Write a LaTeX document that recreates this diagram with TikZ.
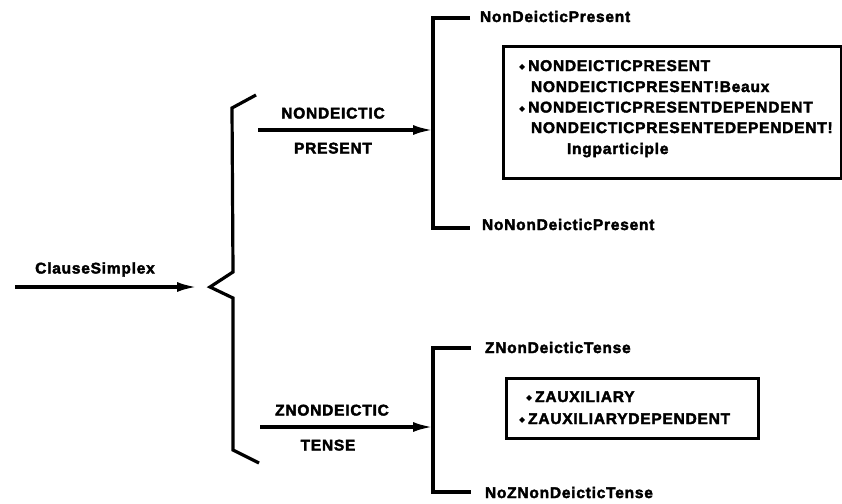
\documentclass[tikz,border=0pt]{standalone}
\usepackage{fontspec}
\setmainfont[LetterSpace=5,BoldFeatures={FakeBold=2.5}]{Liberation Sans}
\newfontfamily\symfont{DejaVu Sans}
\newcommand{\bul}{\raisebox{1.5pt}{\symfont\fontsize{8}{8}\selectfont ◆}\hspace{3pt}}
\usetikzlibrary{arrows.meta}

\begin{document}
\begin{tikzpicture}[x=1pt,y=-1pt,every text node part/.style={align=left}]
		\tikzstyle{lbl}=[font=\bfseries\fontsize{15.5}{19}\selectfont,
                  inner sep=0pt, outer sep=0pt]
		\tikzstyle{wire}=[line width=3.2pt]
		\tikzstyle{arr}=[wire,-{Latex[length=20pt,width=10pt]}]
		\tikzstyle{vbox}=[rectangle,draw,line width=3pt,
                  inner sep=0pt, anchor=north west]

        \useasboundingbox (0,0) rectangle (842,503);

        % input and big brace
        \node[lbl,anchor=base] (CS) at (95,273.5) {ClauseSimplex};
        \coordinate (CSin) at (15,287);
        \coordinate (CSout) at (197,287);
        \coordinate (tip) at (210,287);
        \coordinate (braceTop) at (256,95);
        \coordinate (braceBot) at (259,463);

     	\foreach \name/\x/\y/\txt in {NDa/333/118.5/NONDEICTIC, NDb/333/153.5/PRESENT,
                                      ZNDa/332/415.5/ZNONDEICTIC, ZNDb/328/450.5/TENSE}
       		\node[lbl,anchor=base] (\name) at (\x,\y) {\txt};

     	\foreach \name/\x/\y/\txt in {NDP/480/22/NonDeicticPresent,
                                      NoNDP/482/230/NoNonDeicticPresent,
                                      ZNDT/485/353/ZNonDeicticTense,
                                      NoZNDT/485/498/NoZNonDeicticTense}
       		\node[lbl,anchor=base west] (\name) at (\x,\y) {\txt};

        % feature boxes
        \node[vbox,minimum width=338pt,minimum height=132pt] (PresBox) at (502,45) {};
        \node[vbox,minimum width=252pt,minimum height=60pt] (ZBox) at (505,377) {};

     	\foreach \name/\x/\y/\txt in {pa/519/71/{\bul NONDEICTICPRESENT},
                                      pb/531/92/{NONDEICTICPRESENT!Beaux},
                                      pc/519/112.5/{\bul NONDEICTICPRESENTDEPENDENT},
                                      pd/531/133/{NONDEICTICPRESENTEDEPENDENT!},
                                      pe/567/154/{Ingparticiple},
                                      za/526/402/{\bul ZAUXILIARY},
                                      zb/519/424/{\bul ZAUXILIARYDEPENDENT}}
       		\node[lbl,anchor=base west] (\name) at (\x,\y) {\txt};

        % bracket points
        \coordinate (NDstart) at (258,130);
        \coordinate (NDjoin) at (433,130);
        \coordinate (NDtop) at (470,18);
        \coordinate (NDbot) at (470,228);
        \coordinate (ZNDstart) at (260,427);
        \coordinate (ZNDjoin) at (433,427);
        \coordinate (ZNDtop) at (471,348);
        \coordinate (ZNDbot) at (471,492);

        % edges

        \draw [wire] (braceTop) -- (232,108) -- (233,272) -- (tip)
                     -- (233,298) -- (233,450) -- (braceBot);
        \draw [arr] (CSin) -- (CSout);
        \draw [arr] (NDstart) -- (NDjoin);
        \draw [arr] (ZNDstart) -- (ZNDjoin);

        \draw [wire] (NDtop) -| (NDjoin) |- (NDbot);
        \draw [wire] (ZNDtop) -| (ZNDjoin) |- (ZNDbot);

	\end{tikzpicture}
\end{document}
